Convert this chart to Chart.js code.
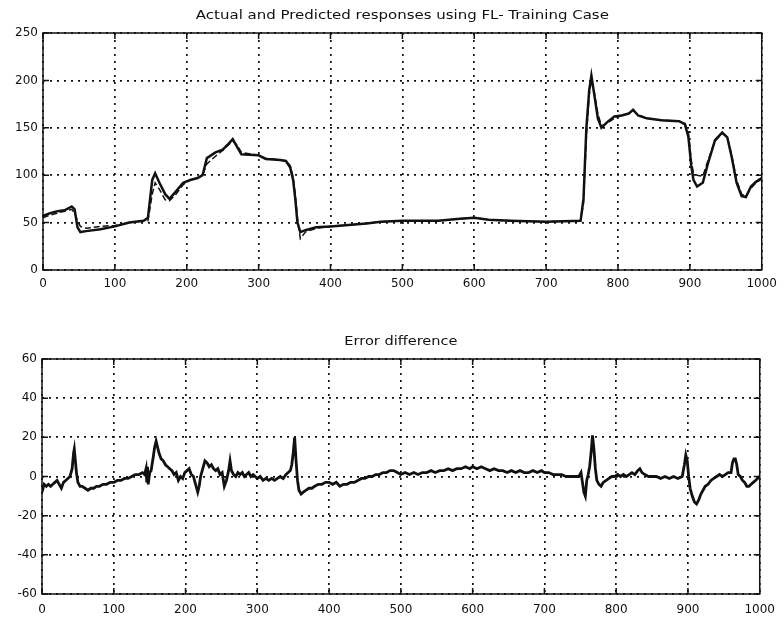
<!DOCTYPE html>
<html>
<head>
<meta charset="utf-8">
<script src="https://cdn.jsdelivr.net/npm/chart.js@4"></script>
<style>
  html, body { margin: 0; padding: 0; background: #fff; }
  #top { position: absolute; left: 0; top: 0; width: 784px; height: 300px; }
  #bottom { position: absolute; left: 0; top: 300px; width: 784px; height: 318px; }
</style>
</head>
<body>
<div id="top"><canvas id="resp-chart"></canvas></div>
<div id="bottom"><canvas id="err-chart"></canvas></div>
<script>
// ---- data ----
const respX = [0, 10, 20, 30, 40, 44, 48, 52, 60, 80,
  100, 120, 140, 146, 152, 156, 162, 170, 176, 185,
  195, 205, 215, 222, 228, 240, 250, 258, 264, 270,
  276, 300, 310, 330, 338, 344, 348, 351, 354, 358,
  365, 380, 400, 450, 470, 500, 550, 580, 600, 620,
  650, 700, 748, 752, 756, 760, 763, 767, 772, 777,
  785, 795, 805, 815, 821, 828, 840, 860, 885, 893,
  898, 902, 905, 910, 918, 925, 935, 945, 952, 958,
  965, 972, 978, 985, 992, 1000];
const actual = [57, 60, 62, 63, 67, 64, 45, 40, 41, 43,
  46, 50, 52, 55, 95, 102, 92, 80, 75, 83,
  92, 95, 97, 100, 118, 124, 127, 133, 138, 130,
  122, 121, 117, 116, 115, 108, 95, 75, 50, 40,
  42, 45, 46, 49, 51, 52, 52, 54, 55, 53,
  52, 51, 52, 75, 150, 190, 205, 185, 160, 150,
  156, 162, 163, 165, 169, 163, 160, 158, 157, 154,
  140, 110, 95, 88, 92, 112, 137, 145, 140, 120,
  92, 78, 77, 88, 93, 97];
const predicted = [55, 58, 60, 62, 64, 60, 52, 46, 44, 46,
  47, 50, 52, 52, 80, 92, 85, 74, 73, 80,
  90, 95, 97, 100, 112, 120, 126, 132, 136, 132,
  124, 121, 118, 116, 115, 110, 98, 80, 55, 33,
  40, 44, 46, 49, 51, 52, 52, 54, 55, 53,
  52, 51, 52, 70, 140, 185, 200, 188, 165, 152,
  155, 160, 163, 165, 168, 164, 160, 158, 157, 155,
  145, 115, 102, 100, 99, 115, 136, 144, 141, 122,
  95, 80, 78, 86, 92, 96];

const errX = [0, 3, 6, 9, 12, 15, 18, 21, 24, 27,
  30, 33, 36, 39, 42, 44, 45, 46, 48, 50,
  53, 56, 60, 64, 68, 72, 76, 80, 85, 90,
  95, 100, 105, 110, 115, 120, 125, 130, 135, 140,
  143, 145, 146, 147, 148, 150, 152, 155, 157, 159,
  161, 163, 166, 169, 172, 175, 178, 181, 184, 187,
  190, 193, 196, 199, 202, 205, 208, 211, 214, 217,
  219, 221, 224, 227, 230, 233, 236, 239, 242, 245,
  248, 251, 254, 257, 260, 262, 264, 267, 270, 273,
  276, 279, 282, 285, 288, 291, 294, 297, 300, 304,
  308, 312, 316, 320, 324, 328, 332, 336, 340, 343,
  346, 348, 350, 352, 354, 356, 358, 361, 364, 368,
  372, 376, 380, 385, 390, 395, 400, 405, 410, 415,
  420, 425, 430, 435, 440, 445, 450, 455, 460, 465,
  470, 475, 480, 485, 490, 495, 500, 506, 512, 518,
  524, 530, 536, 542, 548, 554, 560, 566, 572, 578,
  584, 590, 596, 600, 606, 612, 618, 624, 630, 636,
  642, 648, 654, 660, 666, 672, 678, 684, 690, 696,
  700, 706, 712, 718, 724, 730, 736, 742, 748, 751,
  753, 755, 757, 759, 761, 763, 765, 767, 769, 771,
  773, 776, 779, 782, 786, 790, 794, 798, 802, 806,
  810, 814, 818, 822, 826, 830, 833, 836, 840, 845,
  850, 856, 862, 868, 874, 880, 886, 892, 895, 897,
  899, 901, 903, 906, 909, 912, 915, 918, 921, 924,
  928, 932, 936, 940, 944, 948, 952, 956, 960, 962,
  964, 966, 968, 970, 973, 976, 979, 982, 985, 988,
  991, 994, 997, 1000];
const errY = [-8, -4, -5, -4, -5, -4, -3, -2, -4, -6,
  -3, -2, -1, 0, 4, 12, 14, 10, 2, -3,
  -5, -5, -6, -7, -6, -6, -5, -5, -4, -4,
  -3, -3, -2, -2, -1, -1, 0, 1, 1, 2,
  1, 4, -3, 5, -4, 2, 3, 10, 15, 18,
  15, 12, 9, 8, 6, 5, 4, 3, 1, 2,
  -2, 0, -1, 2, 3, 4, 1, 0, -4, -8,
  -5, 0, 4, 8, 7, 5, 6, 4, 3, 4,
  1, 2, -5, -2, 3, 8, 3, 1, 0, 2,
  1, 2, 0, 1, 2, 0, 1, 0, -1, 0,
  -2, -1, -2, -1, -2, -1, 0, -1, 1, 2,
  3, 6, 12, 20, 8, -2, -7, -9, -8, -7,
  -6, -6, -5, -4, -4, -3, -3, -4, -3, -5,
  -4, -4, -3, -3, -2, -1, -1, 0, 0, 1,
  1, 2, 2, 3, 3, 2, 1, 2, 1, 2,
  1, 2, 2, 3, 2, 3, 3, 4, 3, 4,
  4, 5, 4, 5, 4, 5, 4, 3, 4, 3,
  3, 2, 3, 2, 3, 2, 2, 3, 2, 3,
  2, 2, 1, 1, 1, 0, 0, 0, 0, 2,
  -3, -8, -10, -2, 1, 5, 12, 21, 14, 4,
  -2, -4, -5, -3, -2, -1, 0, 0, 1, 0,
  1, 0, 1, 2, 1, 3, 4, 2, 1, 0,
  0, 0, -1, 0, -1, 0, -1, 0, 6, 11,
  8, 0, -6, -10, -13, -14, -12, -9, -7, -5,
  -4, -2, -1, 0, 1, 0, 1, 2, 2, 7,
  9, 9, 6, 1, 0, -2, -3, -5, -5, -4,
  -3, -2, -1, 0];

const xTicks = [0, 100, 200, 300, 400, 500, 600, 700, 800, 900, 1000];
const respTicks = [0, 50, 100, 150, 200, 250];
const errTicks = [-60, -40, -20, 0, 20, 40, 60];

const FONT = "'DejaVu Sans', sans-serif";
const INK = '#111';

function pts(xs, ys) { return xs.map((x, i) => ({ x, y: ys[i] })); }

// frame, inward tick marks and title, matlab style
const matlabBox = {
    id: 'matlabBox',
    afterDraw(c, args, opts) {
        const { ctx, chartArea: a, scales } = c;
        ctx.save();
        ctx.strokeStyle = INK;
        ctx.lineWidth = 1.5;
        ctx.strokeRect(a.left, a.top, a.right - a.left, a.bottom - a.top);
        ctx.beginPath();
        scales.x.ticks.forEach(t => {
            const px = scales.x.getPixelForValue(t.value);
            ctx.moveTo(px, a.bottom); ctx.lineTo(px, a.bottom - 6);
            ctx.moveTo(px, a.top); ctx.lineTo(px, a.top + 6);
        });
        scales.y.ticks.forEach(t => {
            const py = scales.y.getPixelForValue(t.value);
            ctx.moveTo(a.left, py); ctx.lineTo(a.left + 6, py);
            ctx.moveTo(a.right, py); ctx.lineTo(a.right - 6, py);
        });
        ctx.stroke();
        // scanned title is stretched sideways, widen the glyphs to match
        ctx.fillStyle = INK;
        ctx.font = '13px ' + FONT;
        ctx.textAlign = 'center';
        ctx.textBaseline = 'middle';
        const w = ctx.measureText(opts.text).width;
        ctx.translate((a.left + a.right) / 2, opts.y);
        ctx.scale(opts.width / w, 1);
        ctx.fillText(opts.text, 0, 0);
        ctx.restore();
    }
};

function makeChart(id, datasets, yTicks, box) {
    const ctx = document.getElementById(id).getContext('2d');
    return new Chart(ctx, {
        type: 'line',
        data: { datasets },
        plugins: [matlabBox],
        options: {
            responsive: true, maintainAspectRatio: false, animation: false,
            layout: { padding: { top: box.top, right: box.right, left: 0, bottom: 0 } },
            plugins: {
                legend: { display: false }, tooltip: { enabled: false },
                matlabBox: { text: box.title, y: box.titleY, width: box.titleW }
            },
            elements: { point: { radius: 0 }, line: { tension: 0 } },
            scales: {
                x: {
                    type: 'linear', min: 0, max: 1000,
                    afterBuildTicks: s => { s.ticks = xTicks.map(v => ({ value: v })); },
                    afterFit: s => { s.height = box.xh; },
                    ticks: { color: INK, font: { family: FONT, size: 12 }, padding: box.xpad, maxRotation: 0, autoSkip: false, callback: v => String(v) },
                    grid: { color: INK, lineWidth: 1.7, drawTicks: false },
                    border: { display: false, dash: [2, 5] }
                },
                y: {
                    type: 'linear', min: yTicks[0], max: yTicks[yTicks.length - 1],
                    afterBuildTicks: s => { s.ticks = yTicks.map(v => ({ value: v })); },
                    afterFit: s => { s.width = box.yw; },
                    ticks: { color: INK, font: { family: FONT, size: 12 }, padding: 5, callback: v => String(v) },
                    grid: { color: INK, lineWidth: 1.7, drawTicks: false },
                    border: { display: false, dash: [2, 5] }
                }
            }
        }
    });
}

makeChart('resp-chart', [
    { label: 'Actual', data: pts(respX, actual), borderColor: INK, borderWidth: 2.5 },
    { label: 'Predicted', data: pts(respX, predicted), borderColor: INK, borderWidth: 1.5, borderDash: [6, 3] }
], respTicks, { top: 33, right: 16, xh: 30, yw: 43, xpad: 7,
    title: 'Actual and Predicted responses using FL- Training Case', titleY: 16, titleW: 413 });

makeChart('err-chart', [
    { label: 'Error', data: pts(errX, errY), borderColor: INK, borderWidth: 2.8 }
], errTicks, { top: 59, right: 17, xh: 24, yw: 42, xpad: 9,
    title: 'Error difference', titleY: 42, titleW: 113 });
</script>
</body>
</html>
